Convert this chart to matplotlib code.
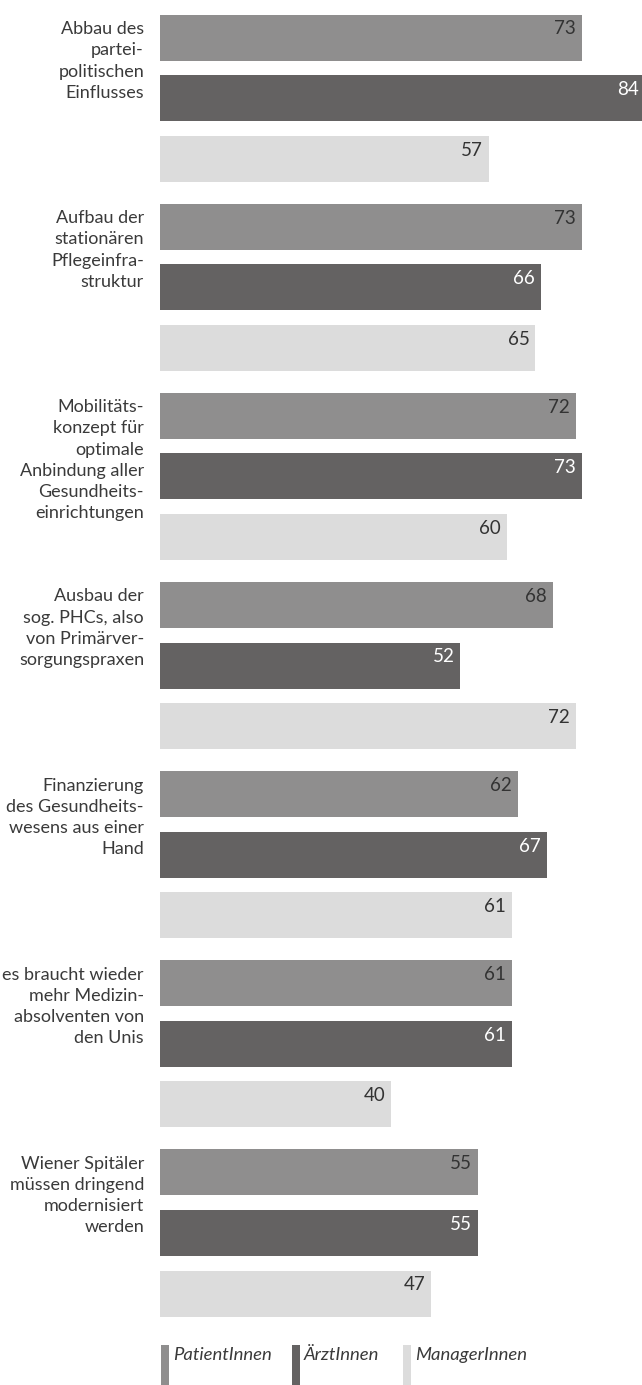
import matplotlib
matplotlib.use("Agg")
import matplotlib.pyplot as plt
from matplotlib.patches import Rectangle

# --- data -------------------------------------------------------------
categories = [
    "Abbau des\npartei-\npolitischen\nEinflusses",
    "Aufbau der\nstationären\nPflegeinfra-\nstruktur",
    "Mobilitäts-\nkonzept für\noptimale\nAnbindung aller\nGesundheits-\neinrichtungen",
    "Ausbau der\nsog. PHCs, also\nvon Primärver-\nsorgungspraxen",
    "Finanzierung\ndes Gesundheits-\nwesens aus einer\nHand",
    "es braucht wieder\nmehr Medizin-\nabsolventen von\nden Unis",
    "Wiener Spitäler\nmüssen dringend\nmodernisiert\nwerden",
]
series_names = ["PatientInnen", "ÄrztInnen", "ManagerInnen"]
patienten = [73, 73, 72, 68, 62, 61, 55]
aerzte = [84, 66, 73, 52, 67, 61, 55]
manager = [57, 65, 60, 72, 61, 40, 47]
series_values = [patienten, aerzte, manager]

# --- styling ----------------------------------------------------------
colors = ["#8f8e8e", "#646262", "#dcdcdc"]
value_colors = ["#333333", "#ffffff", "#333333"]
text_color = "#3a3a3a"
FONT = "Lato"

W, H = 642, 1385
DPI = 100
PX_PER_UNIT = 5.776          # horizontal scale of the value axis
X0 = 160                      # pixel position of value 0

GROUP_TOP = 14.5
GROUP_STEP = 189.1
BAR_STEP = 60.7
BAR_H = 46
LINE_PITCH = 21.2             # baseline distance of the category labels

fig = plt.figure(figsize=(W / DPI, H / DPI), dpi=DPI)
ax = fig.add_axes([X0 / W, 0, 1 - X0 / W, 1])
ax.set_xlim(0, (W - X0) / PX_PER_UNIT)
ax.set_ylim(H, 0)
ax.axis("off")

unit = 1 / PX_PER_UNIT  # one pixel in value units

for gi, cat in enumerate(categories):
    gtop = GROUP_TOP + gi * GROUP_STEP
    for si, vals in enumerate(series_values):
        top = gtop + si * BAR_STEP
        v = vals[gi]
        ax.barh(top + BAR_H / 2, v, height=BAR_H, left=0,
                color=colors[si], linewidth=0)
        ax.text(v - 6 * unit, top + 20, f"{v}", ha="right", va="baseline",
                fontsize=13.5, family=FONT, color=value_colors[si])
    # right-aligned category label, one baseline per line
    for li, line in enumerate(cat.split("\n")):
        ax.text(-16 * unit, gtop + 19.6 + li * LINE_PITCH, line,
                ha="right", va="baseline", fontsize=13, family=FONT,
                color=text_color)

# legend row
legend_x = [161, 292, 403]
for si, name in enumerate(series_names):
    lx = (legend_x[si] - X0) * unit
    ax.add_patch(Rectangle((lx, 1345), 8 * unit, 40, color=colors[si],
                           linewidth=0, clip_on=False))
    ax.text(lx + 12 * unit, 1360, name, ha="left", va="baseline",
            fontsize=13.3, family=FONT, style="italic", color=text_color)

fig.savefig("out.png", dpi=DPI, facecolor="white")
